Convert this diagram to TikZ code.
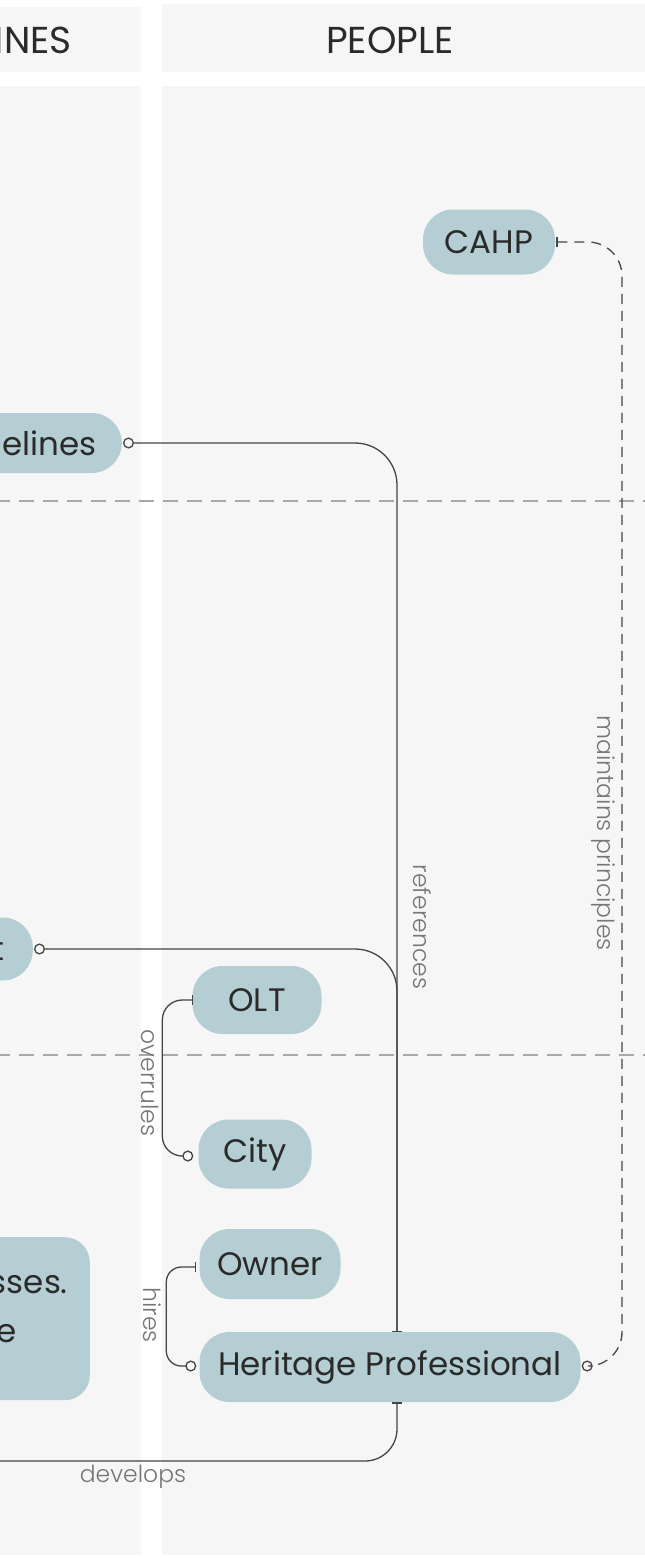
\documentclass[tikz,border=0pt]{standalone}
\usepackage{fontspec}
\setmainfont{Poppins}
\IfFontExistsTF{Poppins Light}
  {\newfontfamily\labelfont{Poppins Light}}
  {\newfontfamily\labelfont{Poppins}}
\usetikzlibrary{arrows.meta,calc}

\definecolor{panel}{HTML}{F6F6F6}
\definecolor{pill}{HTML}{B5CED3}
\definecolor{ink}{HTML}{2A2A2A}
\definecolor{wire}{HTML}{454545}
\definecolor{sep}{HTML}{A8A8A8}
\definecolor{lbl}{HTML}{767676}

\tikzset{
  pillnode/.style={shape=rectangle, rounded corners=30pt, fill=pill, text=ink,
    font=\fontsize{32.5}{38}\selectfont, inner sep=0pt},
  bodytext/.style={text=ink, font=\fontsize{32.5}{38}\selectfont, inner sep=0pt},
  headtext/.style={text=ink, font=\fontsize{37.5}{42}\selectfont, inner sep=0pt},
  edgelabel/.style={text=lbl, font=\labelfont\fontsize{23.5}{27}\selectfont, inner sep=0pt},
  wirepath/.style={draw=wire, line width=1.3pt, rounded corners=#1},
  dashwire/.style={draw=wire, line width=1.3pt, rounded corners=#1,
    dash pattern=on 10pt off 7pt},
  sepline/.style={draw=sep, line width=2pt, dash pattern=on 15pt off 9pt},
  ringtip/.tip={Circle[open, length=11pt, width=11pt, line width=1.3pt]},
  teetip/.tip={Bar[width=10pt, line width=1.5pt]}
}

\begin{document}
\begin{tikzpicture}[x=1pt, y=-1pt]
\useasboundingbox (0,0) rectangle (645,1558);
\clip (0,0) rectangle (645,1558);
\fill[white] (0,0) rectangle (645,1558);

% column panels
\fill[panel] (-20,7) rectangle (141,72);
\fill[panel] (162,4) rectangle (660,72);
\fill[panel] (-20,86) rectangle (141,1555);
\fill[panel] (162,86) rectangle (660,1555);

% column headers
\node[headtext, anchor=base east] (hguide) at (72,53) {GUIDELINES};
\node[headtext, anchor=base] (hpeople) at (390,53) {PEOPLE};

% row separators
\draw[sepline] (-5,501) -- (660,501);
\draw[sepline] (-5,1055) -- (660,1055);

% nodes
\node[pillnode, minimum width=132, minimum height=65] (cahp) at (489,242) {CAHP};
\node[pillnode, anchor=east, minimum height=60, text width=220pt, align=right,
  inner xsep=25pt] (gd) at (122,443) {Guidelines};
\node[pillnode, anchor=east, minimum height=63, text width=150pt, align=right,
  inner xsep=28pt] (tn) at (33,949) {t};
\node[pillnode, minimum width=129, minimum height=68] (olt) at (257,1000) {OLT};
\node[pillnode, minimum width=113, minimum height=69] (city) at (255,1154) {City};
\node[pillnode, minimum width=141, minimum height=70] (own) at (270,1264) {Owner};
\node[pillnode, minimum width=381, minimum height=70] (hp) at (390,1367) {Heritage Professional};
\node[pillnode, rounded corners=25pt, anchor=north east, minimum width=400,
  minimum height=163] (box) at (90,1237) {};
\node[bodytext, anchor=base east] (boxa) at (68,1293) {sses.};
\node[bodytext, anchor=base east] (boxb) at (17,1342) {e};

% connector end points
\coordinate (hptop) at (397,1332);
\coordinate (hpbot) at (397,1402);
\coordinate (devstart) at (-20,1461);

% connectors
\draw[wirepath=42pt, {ringtip}-{teetip}] ($(gd.east)+(1,0)$) -| (hptop);
\draw[wirepath=42pt, {ringtip}-{teetip}] ($(tn.east)+(1,0)$) -| (hptop);
\draw[wirepath=20pt, {teetip}-{ringtip}] ($(olt.west)+(1,0)$) -- ++(-31,0)
  |- ($(city.west)+(-5,2)$);
\draw[wirepath=15pt, {teetip}-{ringtip}] ($(own.west)+(-3,3)$) -- ++(-30,0)
  |- ($(hp.west)+(-3,-1)$);
\draw[dashwire=34pt, {teetip}-{ringtip}] ($(cahp.east)+(1,0)$) -- (622,242)
  -- (622,1366) -- ($(hp.east)+(1,-1)$);
\draw[wirepath=32pt, -{teetip}] (devstart) -| (hpbot);

% connector labels
\node[edgelabel, rotate=-90] (lref) at (422,927) {references};
\node[edgelabel, rotate=-90] (lmaint) at (603,833) {maintains principles};
\node[edgelabel, rotate=-90] (lover) at (150,1083) {overrules};
\node[edgelabel, rotate=-90] (lhire) at (152,1315) {hires};
\node[edgelabel] (ldev) at (133,1477) {develops};
\end{tikzpicture}
\end{document}
